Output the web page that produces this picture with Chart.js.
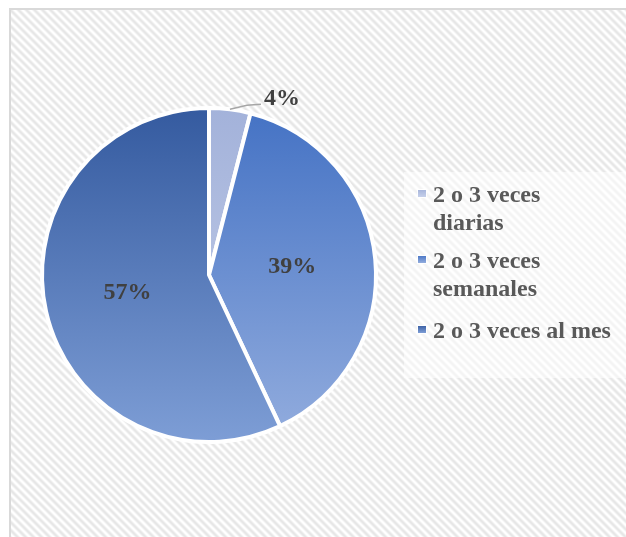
<!DOCTYPE html>
<html>
<head>
<meta charset="utf-8">
<script src="https://cdn.jsdelivr.net/npm/chart.js@4"></script>
<style>
  html, body { margin: 0; padding: 0; background: #fff; overflow: hidden; }
  canvas { display: block; }
</style>
</head>
<body>
<canvas id="pieChart" width="626" height="537"></canvas>
<script>
const categories = [["2 o 3 veces", "diarias"], ["2 o 3 veces", "semanales"], ["2 o 3 veces al mes"]];
const shares = [4, 39, 57];

// top/bottom colour of each slice gradient
const sliceTop = ["#a3b2da", "#4472c4", "#345a9f"];
const sliceBottom = ["#c6d0ea", "#93adde", "#7e9ed6"];

function sliceFill(ctx) {
    const area = ctx.chart.chartArea;
    if (!area) return sliceTop[ctx.dataIndex];
    const g = ctx.chart.ctx.createLinearGradient(0, area.top, 0, area.bottom);
    g.addColorStop(0, sliceTop[ctx.dataIndex]);
    g.addColorStop(1, sliceBottom[ctx.dataIndex]);
    return g;
}

const labelFont = "bold 24px 'Liberation Serif', 'Times New Roman', serif";
const legendFont = "bold 24px 'Liberation Serif', 'Times New Roman', serif";

// diagonal hatch tile for the plot background
function hatchPattern(ctx) {
    const tile = document.createElement("canvas");
    tile.width = 8;
    tile.height = 8;
    const tctx = tile.getContext("2d");
    const img = tctx.createImageData(8, 8);
    const shade = [0xe7, 0xe7, 0xee, 0xf8, 0xff, 0xff, 0xf8, 0xee];
    for (let y = 0; y < 8; y++) {
        for (let x = 0; x < 8; x++) {
            const v = shade[((x - y) % 8 + 8) % 8];
            const k = (y * 8 + x) * 4;
            img.data[k] = v; img.data[k + 1] = v; img.data[k + 2] = v; img.data[k + 3] = 255;
        }
    }
    tctx.putImageData(img, 0, 0);
    return ctx.createPattern(tile, "repeat");
}

const backdrop = {
    id: "backdrop",
    beforeDraw(chart) {
        const ctx = chart.ctx;
        const w = chart.width, h = chart.height;
        ctx.save();
        ctx.fillStyle = "#ffffff";
        ctx.fillRect(0, 0, w, h);
        ctx.fillStyle = hatchPattern(ctx);
        ctx.fillRect(11, 10, w - 11, h - 10);
        ctx.fillStyle = "rgba(255,255,255,0.55)";
        ctx.fillRect(404, 172, w - 404, 206);
        ctx.strokeStyle = "#d9d9d9";
        ctx.lineWidth = 2;
        ctx.beginPath();
        ctx.moveTo(10, h);
        ctx.lineTo(10, 9);
        ctx.lineTo(w, 9);
        ctx.stroke();
        ctx.restore();
    }
};

const sliceLabels = {
    id: "sliceLabels",
    afterDatasetsDraw(chart) {
        const ctx = chart.ctx;
        const meta = chart.getDatasetMeta(0);
        ctx.save();
        ctx.font = labelFont;
        ctx.fillStyle = "#404040";
        meta.data.forEach((arc, i) => {
            const p = arc.getProps(["x", "y", "startAngle", "endAngle", "outerRadius"], true);
            const mid = (p.startAngle + p.endAngle) / 2;
            const text = shares[i] + "%";
            if (shares[i] < 10) {
                const ex = p.x + Math.cos(mid) * p.outerRadius;
                const ey = p.y + Math.sin(mid) * p.outerRadius;
                ctx.strokeStyle = "#a6a6a6";
                ctx.lineWidth = 1.5;
                ctx.beginPath();
                ctx.moveTo(ex, ey);
                ctx.lineTo(ex + 17, ey - 4);
                ctx.lineTo(ex + 31, ey - 5);
                ctx.stroke();
                ctx.textAlign = "left";
                ctx.textBaseline = "alphabetic";
                ctx.fillText(text, ex + 34, ey - 4);
            } else {
                const c = arc.getCenterPoint();
                ctx.textAlign = "center";
                ctx.textBaseline = "middle";
                ctx.fillText(text, c.x, c.y);
            }
        });
        ctx.restore();
    }
};

// legend with wrapped labels on the right
const sideLegend = {
    id: "sideLegend",
    afterDraw(chart) {
        const ctx = chart.ctx;
        const firstBaselines = [202, 268, 338];
        const lineGap = 28;
        ctx.save();
        ctx.font = legendFont;
        ctx.textAlign = "left";
        ctx.textBaseline = "alphabetic";
        chart.data.labels.forEach((lab, i) => {
            const base = firstBaselines[i];
            const g = ctx.createLinearGradient(0, base - 13, 0, base - 5);
            g.addColorStop(0, sliceTop[i]);
            g.addColorStop(1, sliceBottom[i]);
            ctx.fillStyle = "#ffffff";
            ctx.fillRect(417, base - 13, 10, 9);
            ctx.fillStyle = g;
            ctx.fillRect(418, base - 12, 8, 7);
            ctx.fillStyle = "#595959";
            const lines = Array.isArray(lab) ? lab : [lab];
            lines.forEach((ln, k) => ctx.fillText(ln, 433, base + k * lineGap));
        });
        ctx.restore();
    }
};

new Chart(document.getElementById("pieChart"), {
    type: "pie",
    data: {
        labels: categories,
        datasets: [{
            data: shares,
            backgroundColor: sliceFill,
            borderColor: "#ffffff",
            borderWidth: 4
        }]
    },
    options: {
        responsive: false,
        animation: false,
        layout: { padding: { left: 40, right: 248, top: 106, bottom: 93 } },
        plugins: {
            legend: { display: false },
            tooltip: { enabled: false }
        }
    },
    plugins: [backdrop, sliceLabels, sideLegend]
});
</script>
</body>
</html>
